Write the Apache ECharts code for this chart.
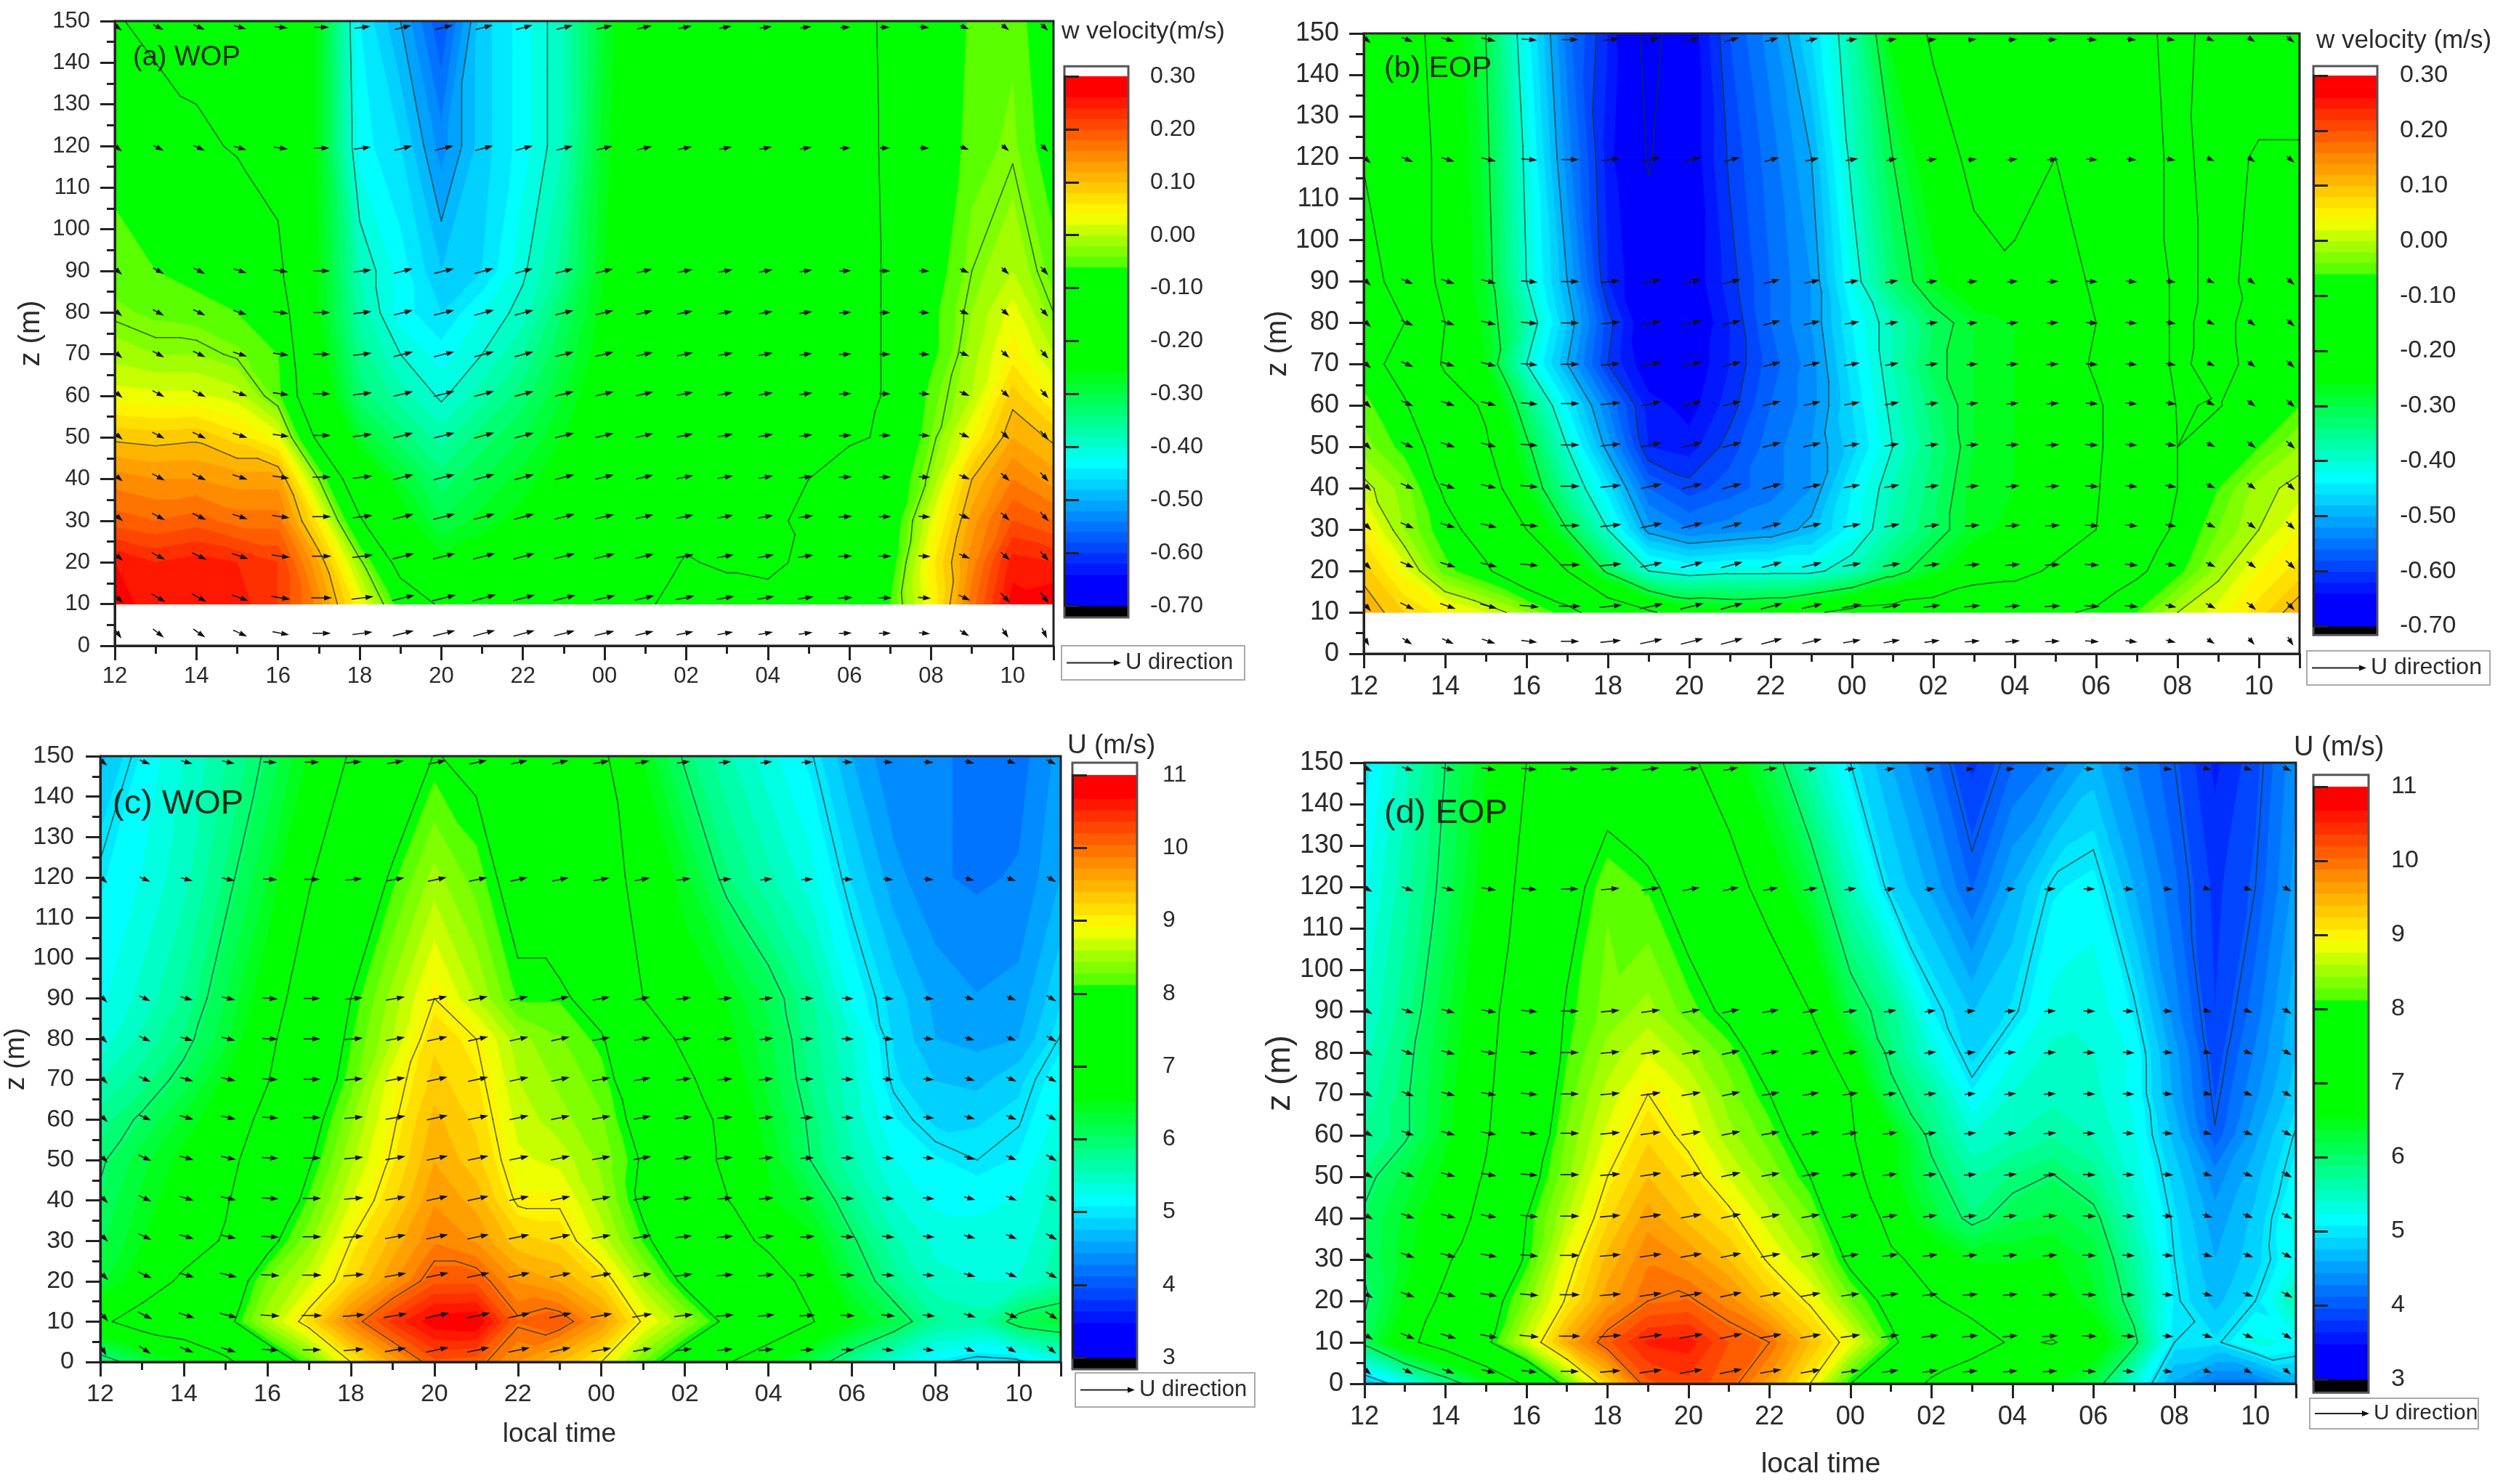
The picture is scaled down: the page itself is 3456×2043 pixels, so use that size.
<!DOCTYPE html>
<html>
<head>
<meta charset="utf-8">
<title>w velocity and U</title>
<style>
html, body { margin: 0; padding: 0; background: #fff; }
#main { width: 3456px; height: 2043px; }
</style>
<script src="https://cdn.jsdelivr.net/npm/echarts@6/dist/echarts.min.js"></script>
</head>
<body>
<div id="main"></div>
<script>
// grid of the measurements: hour of day (12..35 = 12:00 to next day 11:00) and height
var hours = [12,13,14,15,16,17,18,19,20,21,22,23,24,25,26,27,28,29,30,31,32,33,34,35];
var zW = [10,20,30,40,50,60,70,80,90,120,150];
var zU = [0,10,20,30,40,50,60,70,80,90,120,150];

// vectors sit a little off the ticks in the picture
var arrowHr = [12.07,13.07,14.07,15.07,16.07,17.07,18.07,19.07,20.07,21.05,22.03,23.02,24,24.98,25.97,26.96,27.95,28.93,29.9,30.87,31.84,32.82,33.82,34.78];
var arrowZ = [3,11.5,21.5,31,40.5,50.5,60.5,70,80,90,119.5,148.5];
var arrowTilt = [1.35,1.1,1,1,1,1,1,1,1,1,0.95,0.9];

// vector direction per hour, degrees above horizontal
var angleA = [-40,-28,-26,-18,-8,0,7,14,14,15,15,14,13,13,11,10,10,8,3,0,-4,-23,-42,-48];
var angleB = [-45,-24,-18,-14,-5,0,6,12,14,15,15,13,10,10,8,5,5,3,-3,-5,-10,-25,-36,-42];
var angleC = [-45,-25,-16,-13,-3,0,5,10,12,12,12,12,10,10,7,5,6,3,-2,-5,-5,-15,-22,-30];
var angleD = [-30,-20,-15,-10,-5,0,5,8,10,12,10,10,8,8,7,5,5,4,-2,-3,-5,-15,-20,-28];

// (a) w, WOP, rows follow zW
var wWop = [
  [.27,.25,.25,.25,.22,.15,.04,-.08,-.14,-.18,-.2,-.2,-.19,-.14,-.10,-.10,-.10,-.10,-.09,-.06,.04,.17,.27,.28],
  [.26,.24,.25,.24,.22,.12,-.02,-.16,-.25,-.24,-.23,-.21,-.19,-.16,-.125,-.14,-.15,-.11,-.09,-.08,.05,.15,.25,.24],
  [.19,.18,.19,.17,.17,.05,-.12,-.24,-.3,-.27,-.25,-.23,-.2,-.17,-.15,-.14,-.14,-.12,-.10,-.09,.02,.13,.2,.18],
  [.15,.14,.14,.13,.13,-.03,-.2,-.28,-.33,-.3,-.27,-.24,-.21,-.18,-.16,-.15,-.15,-.13,-.11,-.10,-.02,.1,.16,.13],
  [.095,.09,.095,.07,.03,-.15,-.28,-.33,-.37,-.33,-.3,-.26,-.22,-.18,-.16,-.15,-.15,-.14,-.135,-.125,-.04,.04,.12,.095],
  [.03,.025,.025,.01,-.05,-.22,-.33,-.37,-.405,-.37,-.33,-.28,-.23,-.19,-.16,-.15,-.15,-.15,-.14,-.127,-.05,0,.09,.04],
  [-.01,-.02,-.02,-.035,-.06,-.24,-.35,-.40,-.43,-.40,-.36,-.3,-.24,-.19,-.16,-.15,-.15,-.15,-.14,-.127,-.07,-.01,.05,0],
  [-.035,-.045,-.05,-.06,-.08,-.26,-.37,-.43,-.46,-.42,-.39,-.32,-.25,-.19,-.16,-.15,-.15,-.15,-.14,-.127,-.07,-.02,.03,-.03],
  [-.05,-.06,-.07,-.08,-.11,-.26,-.38,-.43,-.48,-.46,-.405,-.35,-.26,-.2,-.16,-.16,-.15,-.15,-.14,-.127,-.08,-.03,0,-.05],
  [-.07,-.10,-.12,-.135,-.16,-.27,-.43,-.46,-.53,-.47,-.43,-.38,-.27,-.2,-.16,-.16,-.15,-.15,-.14,-.126,-.09,-.05,-.035,-.08],
  [-.125,-.145,-.15,-.155,-.17,-.27,-.44,-.50,-.58,-.47,-.43,-.38,-.28,-.20,-.16,-.16,-.15,-.15,-.14,-.125,-.10,-.055,-.045,-.09]
];

// (b) w, EOP, rows follow zW
var wEop = [
  [.12,.08,.05,.02,-.02,-.08,-.14,-.19,-.24,-.25,-.24,-.21,-.18,-.17,-.16,-.14,-.14,-.11,-.09,-.06,0,.03,.07,.12],
  [.09,.03,-.05,-.09,-.16,-.2,-.31,-.4,-.42,-.41,-.41,-.41,-.38,-.32,-.27,-.23,-.22,-.19,-.16,-.11,-.07,-.01,.04,.07],
  [.05,-.02,-.08,-.13,-.2,-.3,-.4,-.51,-.54,-.53,-.52,-.49,-.43,-.37,-.32,-.27,-.25,-.23,-.2,-.14,-.09,-.04,0,.04],
  [.01,-.03,-.11,-.16,-.26,-.36,-.45,-.56,-.59,-.57,-.55,-.52,-.44,-.38,-.33,-.27,-.26,-.25,-.205,-.15,-.1,-.06,-.01,.01],
  [-.03,-.07,-.13,-.19,-.29,-.4,-.51,-.62,-.63,-.59,-.55,-.52,-.47,-.4,-.34,-.28,-.26,-.25,-.21,-.15,-.1,-.08,-.06,-.02],
  [-.05,-.095,-.16,-.21,-.33,-.44,-.54,-.63,-.65,-.61,-.56,-.53,-.46,-.39,-.33,-.28,-.26,-.25,-.21,-.15,-.098,-.102,-.08,-.06],
  [-.08,-.12,-.21,-.26,-.4,-.5,-.6,-.66,-.66,-.62,-.57,-.53,-.45,-.38,-.31,-.28,-.26,-.24,-.19,-.14,-.09,-.12,-.08,-.07],
  [-.07,-.1,-.2,-.27,-.37,-.48,-.59,-.67,-.67,-.62,-.56,-.52,-.44,-.38,-.32,-.28,-.26,-.24,-.2,-.14,-.09,-.115,-.08,-.08],
  [-.06,-.14,-.22,-.28,-.4,-.5,-.62,-.67,-.66,-.61,-.56,-.52,-.42,-.33,-.27,-.22,-.205,-.23,-.19,-.14,-.09,-.11,-.09,-.1],
  [-.105,-.16,-.22,-.29,-.41,-.53,-.63,-.705,-.66,-.595,-.55,-.5,-.39,-.3,-.23,-.185,-.19,-.2,-.17,-.12,-.09,-.115,-.095,-.095],
  [-.12,-.17,-.23,-.3,-.43,-.55,-.62,-.72,-.66,-.58,-.53,-.46,-.37,-.25,-.19,-.18,-.18,-.18,-.17,-.115,-.085,-.12,-.13,-.13]
];

// (c) U, WOP, rows follow zU
var uWop = [
  [5.8,6.2,6.5,6.85,7.55,8.2,9,9.6,10.15,10.1,9.7,9.4,9,8.25,7.65,7.05,6.6,6.2,5.75,5.4,5.05,4.9,4.95,5.2],
  [6.9,7.25,7.4,7.85,8.55,9.15,9.85,10.4,10.8,10.85,10.05,10.15,9.7,8.95,8.45,7.9,7.5,7.05,6.55,6.2,5.75,5.65,6.15,6.3],
  [6.3,6.7,7.1,7.65,8.3,8.7,9.2,9.7,10.15,10.15,9.7,9.55,9.2,8.5,7.9,7.6,7.25,6.85,6.25,5.8,5.45,5.4,5.4,5.65],
  [6.15,6.5,6.75,7.05,7.85,8.4,9,9.45,9.85,9.7,9.3,9.2,8.7,8.1,7.6,7.2,6.9,6.6,6.05,5.6,5.35,5.3,5.3,5.6],
  [6.05,6.4,6.7,6.95,7.5,8.15,8.75,9.2,9.7,9.5,8.95,8.95,8.5,7.9,7.45,7.02,6.55,6.3,5.8,5.4,5.2,5.2,5.25,5.5],
  [5.95,6.3,6.6,6.85,7.3,7.95,8.55,9.05,9.55,9.3,8.8,8.7,8.4,7.95,7.3,6.9,6.5,6,5.6,5.25,5.1,5,5.1,5.45],
  [5.8,6.05,6.4,6.7,7.15,7.8,8.4,8.95,9.45,9.2,8.7,8.5,8.3,7.8,7.3,6.85,6.4,5.95,5.5,5.1,4.88,4.9,4.98,5.3],
  [5.55,5.8,6.1,6.55,6.97,7.6,8.2,8.85,9.3,9.1,8.6,8.4,8.2,7.55,7.1,6.7,6.3,5.85,5.45,4.95,4.75,4.7,4.87,5.2],
  [5.3,5.6,5.9,6.3,6.85,7.5,8.1,8.6,9.2,9,8.5,8.3,8.05,7.3,6.9,6.6,6.25,5.8,5.4,4.9,4.6,4.55,4.6,5.02],
  [5.2,5.45,5.75,6.2,6.7,7.35,8,8.5,9,8.6,8.1,8.1,7.75,7,6.7,6.5,6.15,5.75,5.2,4.85,4.55,4.45,4.5,4.9],
  [5.05,5.25,5.5,5.9,6.35,6.95,7.5,8.07,8.5,8.2,7.8,7.5,7.2,6.85,6.4,5.9,5.6,5.3,4.9,4.5,4.3,4.25,4.3,4.6],
  [4.7,5.1,5.4,5.7,6.05,6.55,7.05,7.5,8.02,7.9,7.6,7.4,7.1,6.5,5.95,5.6,5.3,5.03,4.6,4.3,4.3,4.25,4.2,4.5]
];

// (d) U, EOP, rows follow zU
var uEop = [
  [4.7,5.2,5.75,6.35,7.1,8.2,9.25,10.15,10.3,10.1,9.65,9,8,7.45,6.9,6.7,6.6,6.5,6.2,5.35,4.55,4.2,4.2,4.6],
  [6.1,6.85,7.3,7.9,8.7,9.55,10.15,10.55,10.6,10.2,10,9.4,8.85,8.1,7.55,7.2,6.95,7.02,6.8,6.1,5,4.95,5.3,5.2],
  [5.95,6.55,7.15,7.75,8.35,9.05,9.65,10,10.05,9.8,9.35,8.95,8.3,7.85,7.05,6.85,6.7,6.7,6.4,5.85,5.05,4.7,5,5.6],
  [6.05,6.45,6.9,7.55,8.05,8.85,9.45,9.85,9.7,9.4,8.95,8.55,7.9,7.1,6.8,6.5,6.5,6.55,6.3,5.7,5,4.6,4.85,5.25],
  [6.05,6.4,6.75,7.15,8,8.6,9.2,9.65,9.35,9.1,8.65,8.3,7.55,6.8,6.3,5.9,6.15,6.25,6.1,5.5,4.95,4.5,4.8,5.3],
  [5.9,6.25,6.6,7.05,7.8,8.4,9,9.4,9.15,8.75,8.4,8,7.2,6.6,6.1,5.7,5.9,6.02,5.8,5.35,4.85,4.35,4.7,5.15],
  [5.75,5.95,6.45,6.95,7.6,8.3,8.8,9.2,8.9,8.5,8.2,7.75,7.05,6.6,5.9,5.4,5.55,5.7,5.55,5.25,4.7,4.02,4.55,5.03],
  [5.6,5.95,6.4,6.9,7.5,8.2,8.65,9,8.75,8.35,8,7.5,7,6.1,5.7,5.1,5.4,5.5,5.45,5.2,4.55,3.94,4.4,4.85],
  [5.5,5.9,6.35,6.85,7.45,8.1,8.5,8.75,8.5,8.2,7.75,7.35,6.6,5.9,5.35,4.85,5.2,5.45,5.4,5.2,4.5,3.87,4.3,4.75],
  [5.4,5.8,6.3,6.8,7.4,8.05,8.35,8.5,8.2,7.9,7.45,7,6.2,5.8,5.1,4.75,4.95,5.3,5.35,5.05,4.35,3.8,4.2,4.7],
  [5.2,5.65,6.1,6.65,7.15,7.8,8.25,8.1,7.75,7.25,6.75,6.25,5.55,4.9,4.55,4.1,4.6,5.05,5.15,4.6,4.15,3.75,4,4.5],
  [5,5.5,6,6.5,7,7.4,7.7,7.5,7.1,6.7,6.2,5.6,5,4.6,4.2,3.75,4.1,4.3,4.65,4.3,4,3.6,3.9,4.4]
];

// contour line levels
var levelsA = [-0.5,-0.4,-0.13,-0.03,0.1];
var levelsB = [-0.7,-0.6,-0.5,-0.4,-0.3,-0.2,-0.1,0,0.1];
var levelsC = [5,6,7,8,9,10];
var levelsD = [4,5,6,7,8,9,10];

// rainbow used by the colour scale: position, r, g, b
var rampStops = [
  [0,0,0,255],[0.05,0,0,255],[0.27,0,255,255],[0.45,0,255,0],[0.645,0,255,0],
  [0.65,90,255,0],[0.74,255,255,0],[0.86,255,128,0],[0.97,255,0,0],[1,255,0,0]
];
var bandCount = 50;

var panels = [
  {rect:[158,29,1292,860], values:wWop, z:zW, u:uWop, angle:angleA, levels:levelsA, vmin:-0.7, vmax:0.3, step:0.1, digits:2,
   axisFont:31, labelX:27, labelY:34, nameFont:40, nameGap:95, bar:[1465,105,88,729], under:-0.722, over:0.319, barFont:32, barMargin:30,
   tag:'(a) WOP', tagAt:[183,80], tagFont:38, barTitle:'w velocity(m/s)', titleAt:[1461,44], titleFont:34,
   legend:[1461,889,252,47], legendFont:31},
  {rect:[1877,46,1288,854], values:wEop, z:zW, u:uEop, angle:angleB, levels:levelsB, vmin:-0.7, vmax:0.3, step:0.1, digits:2,
   axisFont:36, labelX:28, labelY:34, nameFont:40, nameGap:94, bar:[3184,104,88,758], under:-0.716, over:0.317, barFont:34, barMargin:31,
   tag:'(b) EOP', tagAt:[1905,95], tagFont:41, barTitle:'w velocity (m/s)', titleAt:[3188,56], titleFont:35,
   legend:[3175,896,252,47], legendFont:32},
  {rect:[138,1041,1322,834], values:uWop, z:zU, u:uWop, angle:angleC, levels:levelsC, vmin:3, vmax:11, step:1, digits:0,
   axisFont:34, labelX:28, labelY:36, nameFont:38, nameGap:94, bar:[1476,1067,89,802], under:2.84, over:11.17, barFont:32, barMargin:35,
   tag:'(c) WOP', tagAt:[155,1107], tagFont:47, barTitle:'U (m/s)', titleAt:[1469,1027], titleFont:37,
   legend:[1480,1890,247,47], legendFont:31, xName:true, xNameGap:81, xNameFont:37, xNamePad:58},
  {rect:[1878,1050,1282,855], values:uEop, z:zU, u:uEop, angle:angleD, levels:levelsD, vmin:3, vmax:11, step:1, digits:0,
   axisFont:36, labelX:28, labelY:29, nameFont:46, nameGap:92, bar:[3184,1083,76,816], under:2.82, over:11.16, barFont:34, barMargin:31,
   tag:'(d) EOP', tagAt:[1905,1120], tagFont:47, barTitle:'U (m/s)', titleAt:[3157,1030], titleFont:38,
   legend:[3179,1925,232,42], legendFont:30, xName:true, xNameGap:92, xNameFont:39, xNamePad:26}
];

var textColor = '#2a2a2a';
var fontName = 'Liberation Sans';

function rampColor(t) {
  t = Math.max(0, Math.min(1, t));
  for (var i = 1; i < rampStops.length; i++) {
    var a = rampStops[i - 1], b = rampStops[i];
    if (t <= b[0]) {
      var f = (t - a[0]) / (b[0] - a[0]);
      return 'rgb(' + Math.round(a[1] + (b[1] - a[1]) * f) + ',' +
        Math.round(a[2] + (b[2] - a[2]) * f) + ',' +
        Math.round(a[3] + (b[3] - a[3]) * f) + ')';
    }
  }
  return 'rgb(255,0,0)';
}

// keep the part of a polygon on one side of a value, points are [x, z, v]
function clipValue(pts, lim, sign) {
  var out = [];
  for (var i = 0; i < pts.length; i++) {
    var p = pts[i], q = pts[(i + 1) % pts.length];
    var dp = sign * (p[2] - lim), dq = sign * (q[2] - lim);
    if (dp >= 0) out.push(p);
    if ((dp >= 0) !== (dq >= 0)) {
      var f = dp / (dp - dq);
      out.push([p[0] + (q[0] - p[0]) * f, p[1] + (q[1] - p[1]) * f, lim]);
    }
  }
  return out;
}

function cellTriangles(api) {
  var x0 = api.value(0), z0 = api.value(1), x1 = api.value(2), z1 = api.value(3);
  var a = [x0, z0, api.value(4)], b = [x1, z0, api.value(5)];
  var c = [x1, z1, api.value(6)], d = [x0, z1, api.value(7)];
  if (Math.abs(a[2] - c[2]) <= Math.abs(b[2] - d[2])) return [[a, b, c], [a, c, d]];
  return [[a, b, d], [b, c, d]];
}

function cellData(p) {
  var data = [];
  for (var j = 0; j < p.z.length - 1; j++) {
    for (var i = 0; i < hours.length - 1; i++) {
      data.push([hours[i], p.z[j], hours[i + 1], p.z[j + 1],
        p.values[j][i], p.values[j][i + 1], p.values[j + 1][i + 1], p.values[j + 1][i]]);
    }
  }
  return data;
}

// filled bands, one group per cell
function fillRenderer(p) {
  var size = (p.vmax - p.vmin) / bandCount;
  return function (params, api) {
    var tris = cellTriangles(api), children = [];
    tris.forEach(function (tri) {
      var vals = [tri[0][2], tri[1][2], tri[2][2]];
      var lowest = Math.min.apply(null, vals), highest = Math.max.apply(null, vals);
      for (var n = 0; n < bandCount; n++) {
        var lo = p.vmin + n * size, hi = lo + size;
        var openLo = n === 0, openHi = n === bandCount - 1;
        if ((!openHi && lo > highest) || (!openLo && hi < lowest)) continue;
        var poly = tri;
        if (!openLo) poly = clipValue(poly, lo, 1);
        if (!openHi && poly.length) poly = clipValue(poly, hi, -1);
        if (poly.length < 3) continue;
        var col = rampColor((n + 0.5) / bandCount);
        children.push({
          type: 'polygon',
          shape: {points: poly.map(function (q) { return api.coord([q[0], q[1]]); })},
          style: {fill: col, stroke: col, lineWidth: 1}
        });
      }
    });
    return {type: 'group', children: children};
  };
}

// contour lines, crossing points on the triangle edges
function lineRenderer(p) {
  return function (params, api) {
    var tris = cellTriangles(api), children = [];
    tris.forEach(function (tri) {
      p.levels.forEach(function (lv) {
        var cross = [];
        for (var i = 0; i < 3; i++) {
          var s = tri[i], e = tri[(i + 1) % 3];
          if ((s[2] < lv) !== (e[2] < lv)) {
            var f = (lv - s[2]) / (e[2] - s[2]);
            cross.push(api.coord([s[0] + (e[0] - s[0]) * f, s[1] + (e[1] - s[1]) * f]));
          }
        }
        if (cross.length === 2) {
          children.push({
            type: 'line',
            shape: {x1: cross[0][0], y1: cross[0][1], x2: cross[1][0], y2: cross[1][1]},
            style: {stroke: 'rgba(25,45,25,0.7)', lineWidth: 1.6, lineCap: 'round'}
          });
        }
      });
    });
    return {type: 'group', children: children};
  };
}

function arrowShape(cx, cy, ang, len) {
  var dx = Math.cos(ang), dy = -Math.sin(ang);
  var tx = cx - dx * len / 2, ty = cy - dy * len / 2;
  var hx = cx + dx * len / 2, hy = cy + dy * len / 2;
  var bx = hx - dx * 11, by = hy - dy * 11;
  return [
    {type: 'line', shape: {x1: tx, y1: ty, x2: bx, y2: by}, style: {stroke: '#1a1a1a', lineWidth: 1.6}},
    {type: 'polygon', shape: {points: [[hx, hy], [bx - dy * 3.6, by + dx * 3.6], [bx + dy * 3.6, by - dx * 3.6]]}, style: {fill: '#111'}}
  ];
}

// wind vectors: tilt from the hourly direction, length from the U field
function arrowRenderer(params, api) {
  var c = api.coord([api.value(0), api.value(1)]);
  return {type: 'group', children: arrowShape(c[0], c[1], api.value(2) * Math.PI / 180, api.value(3) * 3.1)};
}

function arrowData(p) {
  var data = [];
  arrowZ.forEach(function (z, j) {
    hours.forEach(function (h, i) {
      var a = p.angle[i];
      if (a < 0) a = a * arrowTilt[j];
      data.push([arrowHr[i], z, a, p.u[j][i]]);
    });
  });
  return data;
}

function frameRenderer(params, api) {
  var a = api.coord([api.value(0), api.value(1)]), b = api.coord([api.value(2), api.value(3)]);
  return {type: 'rect', shape: {x: a[0], y: b[1], width: b[0] - a[0], height: a[1] - b[1]},
    style: {fill: 'none', stroke: '#222', lineWidth: 3}};
}

function barRenderer(params, api) {
  var a = api.coord([0, api.value(0)]), b = api.coord([1, api.value(1)]);
  var col = api.value(2) < 0 ? '#000' : (api.value(2) > 1 ? '#fff' : rampColor(api.value(2)));
  return {type: 'rect', shape: {x: a[0], y: b[1], width: b[0] - a[0], height: a[1] - b[1] + 0.6},
    style: {fill: col}};
}

function barFrameRenderer(params, api) {
  var a = api.coord([0, api.value(0)]), b = api.coord([1, api.value(1)]);
  return {type: 'rect', shape: {x: a[0], y: b[1], width: b[0] - a[0], height: a[1] - b[1]},
    style: {fill: 'none', stroke: '#555', lineWidth: 3}};
}

function barData(p) {
  var size = (p.vmax - p.vmin) / bandCount;
  var data = [[p.under, p.vmin, -1], [p.vmax, p.over, 2]];
  for (var n = 0; n < bandCount; n++) {
    data.push([p.vmin + n * size, p.vmin + (n + 1) * size, (n + 0.5) / bandCount]);
  }
  return data;
}

var grids = [], xAxes = [], yAxes = [], seriesList = [], graphics = [];

panels.forEach(function (p, k) {
  var plot = 2 * k, barIdx = 2 * k + 1;
  grids.push({left: p.rect[0], top: p.rect[1], width: p.rect[2], height: p.rect[3]});
  grids.push({left: p.bar[0], top: p.bar[1], width: p.bar[2], height: p.bar[3]});

  xAxes.push({
    type: 'value', gridIndex: plot, min: 12, max: 35, interval: 2, z: 5,
    name: p.xName ? 'local time' : '', nameLocation: 'middle', nameGap: p.xNameGap,
    nameTextStyle: {fontSize: p.xNameFont, fontFamily: fontName, color: textColor, padding: [0, p.xNamePad || 0, 0, 0]},
    splitLine: {show: false},
    axisLine: {onZero: false, lineStyle: {color: '#222', width: 3}},
    axisTick: {length: 20, lineStyle: {color: '#222', width: 3}},
    minorTick: {show: true, splitNumber: 2, length: 11, lineStyle: {color: '#222', width: 3}},
    axisLabel: {
      showMaxLabel: false, margin: p.labelX, fontSize: p.axisFont, fontFamily: fontName, color: textColor,
      formatter: function (v) { var h = v % 24; return (h < 10 ? '0' : '') + h; }
    }
  });
  yAxes.push({
    type: 'value', gridIndex: plot, min: 0, max: 150, interval: 10, z: 5,
    name: 'z (m)', nameLocation: 'middle', nameRotate: 90, nameGap: p.nameGap,
    nameTextStyle: {fontSize: p.nameFont, fontFamily: fontName, color: textColor},
    splitLine: {show: false},
    axisLine: {onZero: false, lineStyle: {color: '#222', width: 3}},
    axisTick: {length: 20, lineStyle: {color: '#222', width: 3}},
    minorTick: {show: true, splitNumber: 2, length: 11, lineStyle: {color: '#222', width: 3}},
    axisLabel: {margin: p.labelY, fontSize: p.axisFont, fontFamily: fontName, color: textColor}
  });

  xAxes.push({type: 'value', gridIndex: barIdx, min: 0, max: 1, show: false, splitLine: {show: false}});
  yAxes.push({
    type: 'value', gridIndex: barIdx, position: 'right', min: p.vmin, max: p.vmax, interval: p.step, z: 5,
    splitLine: {show: false},
    axisLine: {lineStyle: {color: '#222', width: 3}},
    axisTick: {length: 20, lineStyle: {color: '#222', width: 3}},
    axisLabel: {
      margin: p.barMargin, fontSize: p.barFont, fontFamily: fontName, color: textColor,
      formatter: function (v) { return v.toFixed(p.digits); }
    }
  });

  seriesList.push({
    type: 'custom', xAxisIndex: plot, yAxisIndex: plot, renderItem: fillRenderer(p), data: cellData(p),
    clip: true, silent: true, z: 2, progressive: 0, animation: false
  });
  seriesList.push({
    type: 'custom', xAxisIndex: plot, yAxisIndex: plot, renderItem: lineRenderer(p), data: cellData(p),
    clip: true, silent: true, z: 3, progressive: 0, animation: false
  });
  seriesList.push({
    type: 'custom', xAxisIndex: plot, yAxisIndex: plot, renderItem: arrowRenderer, data: arrowData(p),
    clip: true, silent: true, z: 4, progressive: 0, animation: false
  });
  seriesList.push({
    type: 'custom', xAxisIndex: plot, yAxisIndex: plot, renderItem: frameRenderer, data: [[12, 0, 35, 150]],
    clip: false, silent: true, z: 6, animation: false
  });
  seriesList.push({
    type: 'custom', xAxisIndex: barIdx, yAxisIndex: barIdx, renderItem: barRenderer, data: barData(p),
    clip: false, silent: true, z: 2, progressive: 0, animation: false
  });
  seriesList.push({
    type: 'custom', xAxisIndex: barIdx, yAxisIndex: barIdx, renderItem: barFrameRenderer, data: [[p.under, p.over]],
    clip: false, silent: true, z: 3, animation: false
  });

  // panel tag, colour bar title and the small vector key
  graphics.push({type: 'text', x: p.tagAt[0], y: p.tagAt[1], z: 20, style: {
    text: p.tag, fontSize: p.tagFont, fontFamily: fontName, fill: '#1a2a1a', verticalAlign: 'middle'}});
  graphics.push({type: 'text', x: p.titleAt[0], y: p.titleAt[1], z: 20, style: {
    text: p.barTitle, fontSize: p.titleFont, fontFamily: fontName, fill: textColor, verticalAlign: 'middle'}});
  var lg = p.legend, midY = lg[1] + lg[3] / 2;
  graphics.push({type: 'rect', z: 20, shape: {x: lg[0], y: lg[1], width: lg[2], height: lg[3]},
    style: {fill: '#fff', stroke: '#aaa', lineWidth: 2}});
  graphics.push({type: 'line', z: 21, shape: {x1: lg[0] + 7, y1: midY, x2: lg[0] + 76, y2: midY},
    style: {stroke: '#222', lineWidth: 2}});
  graphics.push({type: 'polygon', z: 21, shape: {points: [[lg[0] + 82, midY], [lg[0] + 72, midY - 4], [lg[0] + 72, midY + 4]]},
    style: {fill: '#111'}});
  graphics.push({type: 'text', x: lg[0] + 88, y: midY, z: 21, style: {
    text: 'U direction', fontSize: p.legendFont, fontFamily: fontName, fill: textColor, verticalAlign: 'middle'}});
});

var myChart = echarts.init(document.getElementById('main'));
var option = {
  backgroundColor: '#fff',
  animation: false,
  grid: grids,
  xAxis: xAxes,
  yAxis: yAxes,
  series: seriesList,
  graphic: graphics
};
myChart.setOption(option);
</script>
</body>
</html>
